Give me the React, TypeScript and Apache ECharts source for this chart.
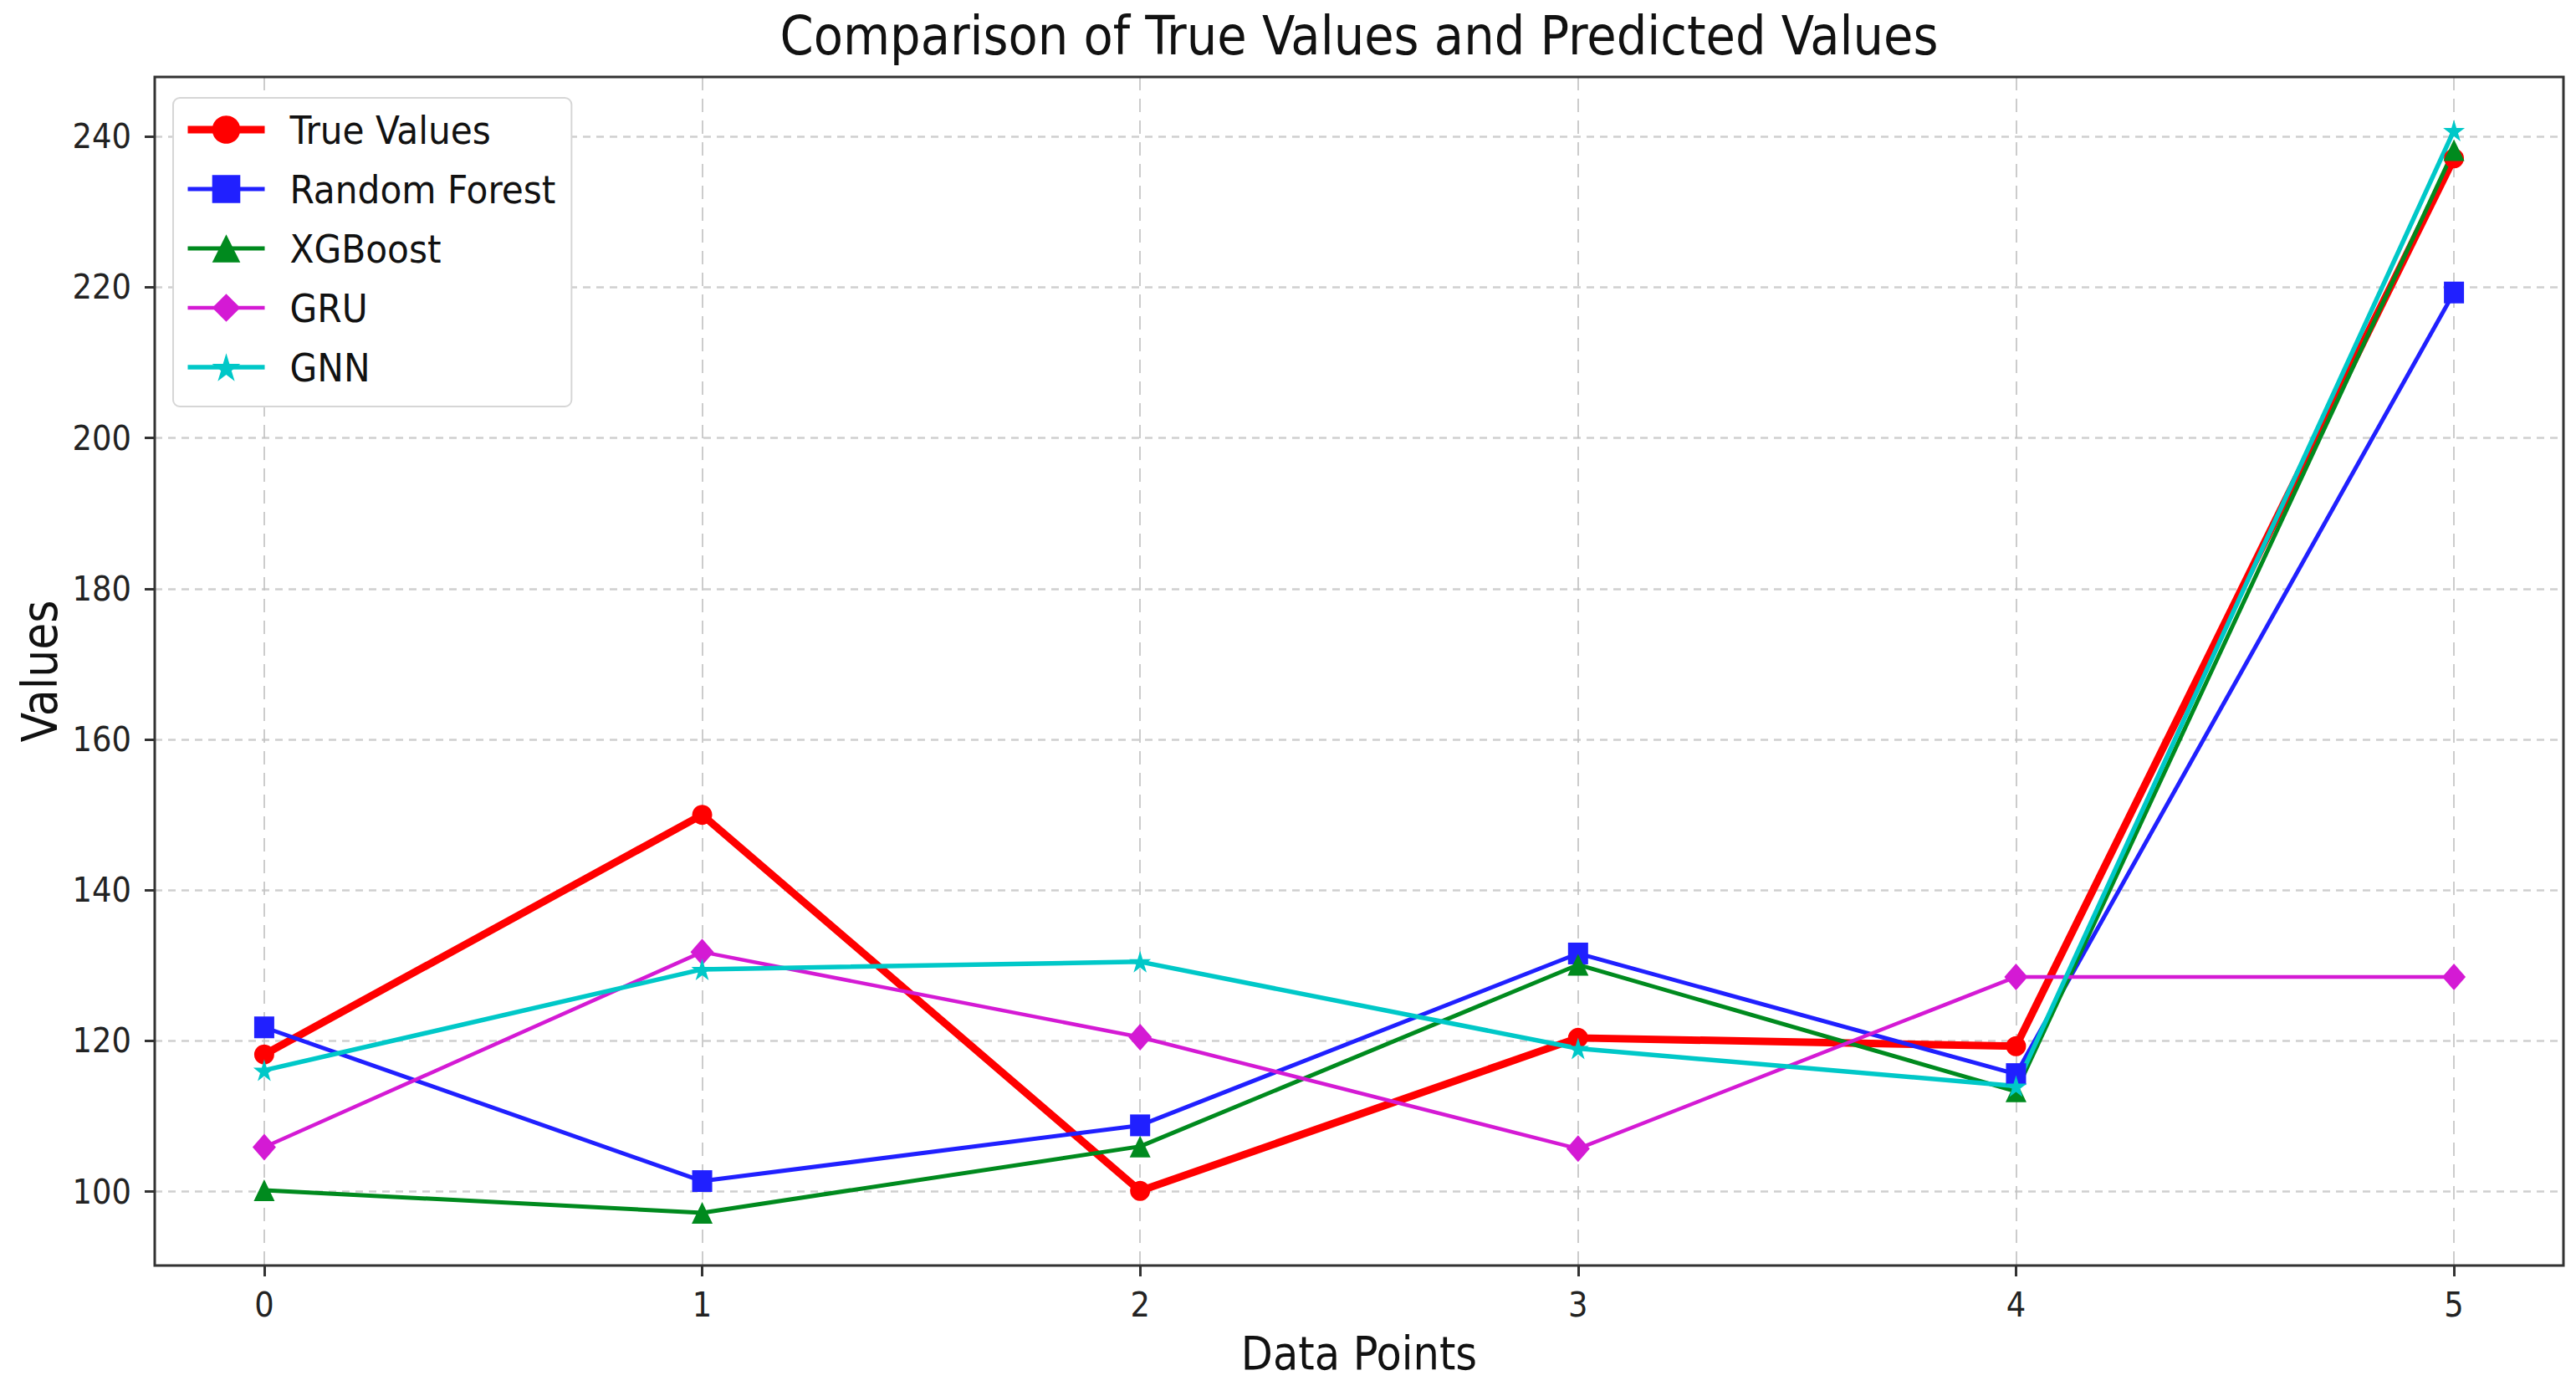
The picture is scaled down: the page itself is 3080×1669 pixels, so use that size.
import React, { useEffect, useRef } from "react";
import * as echarts from "echarts";

const categories = [0, 1, 2, 3, 4, 5];
const trueValues = [118.2, 150.0, 100.1, 120.4, 119.3, 237.1];
const randomForest = [121.8, 101.4, 108.8, 131.6, 115.6, 219.3];
const xgboost = [100.2, 97.2, 106.0, 130.1, 113.3, 238.2];
const gru = [105.9, 131.8, 120.5, 105.7, 128.5, 128.5];
const gnn = [116.1, 129.5, 130.5, 119.0, 114.0, 240.8];
const seriesNames = ["True Values", "Random Forest", "XGBoost", "GRU", "GNN"];
const xTicks = [0, 5];
const yTicks = [100, 240];

const W = 3080;
const H = 1669;
const FONT = '"DejaVu Sans Condensed", "DejaVu Sans", sans-serif';

export default function App() {
  const ref = useRef<HTMLDivElement>(null);
  useEffect(() => {
    document.body.style.margin = "0";
    const chart = echarts.init(ref.current!, null, { renderer: "svg" });
    const L = 185, R = 15, T = 92, B = 156;
    const xMin = -0.25, xMax = 5.25, yMin = 90.2, yMax = 247.9;
    const pw = W - L - R, ph = H - T - B;
    const pxX = pw / (xMax - xMin);
    const pxY = ph / (yMax - yMin);
    const toPairs = (arr: number[]) => categories.map((c, i) => [c, arr[i]]);

    const styles = [
      { color: "#ff0000", width: 9, symbol: "circle", size: 24 },
      { color: "#2020ff", width: 5, symbol: "rect", size: [24, 26] },
      { color: "#008a1e", width: 5, symbol: "triangle", size: [25, 26] },
      { color: "#d41ad4", width: 4.5, symbol: "diamond", size: [28, 32] },
      { color: "#00c8c8", width: 5.5, symbol: "path://M50,0 L61,35 L98,35 L68,57 L79,91 L50,70 L21,91 L32,57 L2,35 L39,35 Z", size: 26 },
    ];
    const values = [trueValues, randomForest, xgboost, gru, gnn];

    const series = seriesNames.map((name, i) => ({
      name,
      type: "line",
      xAxisIndex: 0,
      yAxisIndex: 0,
      data: toPairs(values[i]),
      symbol: styles[i].symbol,
      symbolSize: styles[i].size,
      clip: false,
      lineStyle: { color: styles[i].color, width: styles[i].width },
      itemStyle: { color: styles[i].color },
      emphasis: { disabled: true },
    }));

    chart.setOption({
      animation: false,
      backgroundColor: "#ffffff",
      textStyle: { fontFamily: FONT },
      grid: [
        { left: L, right: R, top: T, bottom: B, show: true, borderColor: "#333", borderWidth: 3, backgroundColor: "transparent", z: 3 },
        { left: L + (xTicks[0] - xMin) * pxX, right: R + (xMax - xTicks[1]) * pxX, top: T, bottom: B },
        { left: L, right: R, top: T + (yMax - yTicks[1]) * pxY, bottom: B + (yTicks[0] - yMin) * pxY },
      ],
      xAxis: [
        { type: "value", gridIndex: 0, min: xMin, max: xMax, axisLine: { show: false }, axisTick: { show: false }, axisLabel: { show: false }, splitLine: { show: false } },
        {
          type: "value", gridIndex: 1, min: xTicks[0], max: xTicks[1], interval: 1,
          axisLine: { show: false },
          axisTick: { show: true, length: 13, lineStyle: { color: "#333", width: 3 } },
          axisLabel: { show: true, margin: 26, fontSize: 41, color: "#222", fontFamily: FONT },
          splitLine: { show: true, lineStyle: { color: "#c0c0c0", width: 1.6, type: [16, 10] } },
        },
        { type: "value", gridIndex: 2, min: 0, max: 1, show: false },
      ],
      yAxis: [
        { type: "value", gridIndex: 0, min: yMin, max: yMax, axisLine: { show: false }, axisTick: { show: false }, axisLabel: { show: false }, splitLine: { show: false } },
        { type: "value", gridIndex: 1, min: 0, max: 1, show: false },
        {
          type: "value", gridIndex: 2, min: yTicks[0], max: yTicks[1], interval: 20,
          axisLine: { show: false },
          axisTick: { show: true, length: 12, lineStyle: { color: "#333", width: 3 } },
          axisLabel: { show: true, margin: 28, fontSize: 41, color: "#222", fontFamily: FONT },
          splitLine: { show: true, lineStyle: { color: "#cfcfcf", width: 2.5, type: [9, 7] } },
        },
      ],
      legend: {
        orient: "vertical",
        left: 207,
        top: 117,
        data: seriesNames.map((name, i) => ({ name, lineStyle: { width: styles[i].width, color: styles[i].color } })),
        itemWidth: 92,
        itemHeight: 42,
        itemGap: 21,
        padding: [13, 19, 22, 13],
        backgroundColor: "#ffffff",
        borderColor: "#d6d6d6",
        borderWidth: 2,
        borderRadius: 8,
        textStyle: { fontSize: 47, color: "#111", fontFamily: FONT, lineHeight: 50, padding: [0, 0, 0, 25] },
        selectedMode: false,
        z: 10,
      },
      graphic: [
        { type: "text", x: L + pw / 2, y: 43, style: { text: "Comparison of True Values and Predicted Values", fontSize: 64, fontFamily: FONT, fill: "#111", align: "center", verticalAlign: "middle" } },
        { type: "text", x: L + pw / 2, y: 1618, style: { text: "Data Points", fontSize: 55, fontFamily: FONT, fill: "#111", align: "center", verticalAlign: "middle" } },
        { type: "text", x: 48, y: T + ph / 2, rotation: Math.PI / 2, style: { text: "Values", fontSize: 58, fontFamily: FONT, fill: "#111", align: "center", verticalAlign: "middle" } },
      ],
      series,
    });
    return () => chart.dispose();
  }, []);
  return <div ref={ref} style={{ width: W, height: H }} />;
}
